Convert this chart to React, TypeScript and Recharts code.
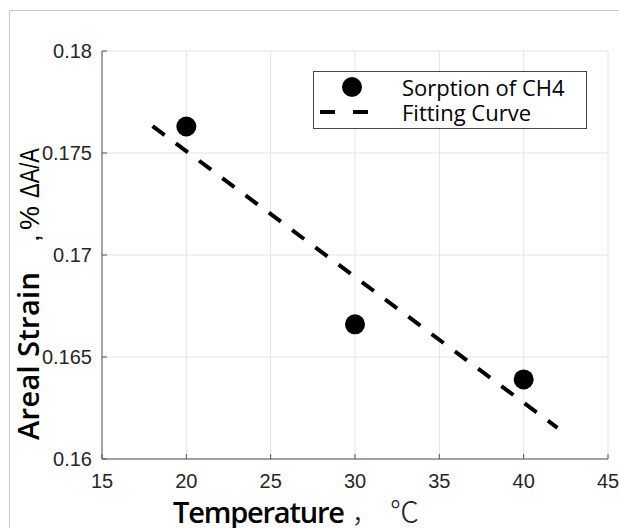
import React from 'react';
import { ScatterChart, Scatter, XAxis, YAxis, CartesianGrid, Legend } from 'recharts';

// measured CH4 sorption points
const temperature = [20, 30, 40];
const arealStrain = [0.1763, 0.1666, 0.1639];

// linear fit, drawn between its two end points
const fitTemperature = [18, 42];
const fitStrain = [0.17632, 0.16153];

const xTicks = [15, 20, 25, 30, 35, 40, 45];
const yTicks = [0.16, 0.165, 0.17, 0.175, 0.18];

const seriesNames = ['Sorption of CH4', 'Fitting Curve'];

const points = temperature.map((t, i) => ({ x: t, y: arealStrain[i] }));
const fitLine = fitTemperature.map((t, i) => ({ x: t, y: fitStrain[i] }));

const axisColor = '#555';
const tickFont = { fontFamily: 'Liberation Sans, Arial, sans-serif', fontSize: 20, fill: '#262626' };

const Dot = (props: any) => <circle cx={props.cx} cy={props.cy} r={10} fill="#000" />;
const NoShape = () => <g />;

const XTitle = () => (
  <text y={523} fill="#000" fontSize={29}>
    <tspan x={173} fontFamily="Open Sans, sans-serif" fontWeight={600} textLength={172}>
      Temperature
    </tspan>
    <tspan x={352} fontFamily="Noto Sans CJK SC, sans-serif" fontWeight={300} fontSize={26} fill="#222">
      ，
    </tspan>
    <tspan x={390} fontFamily="Noto Sans CJK SC, sans-serif" fontWeight={300} fill="#222">
      ℃
    </tspan>
  </text>
);

const YTitle = () => (
  <text transform="rotate(-90, 39, 440)" y={440} fill="#000" fontSize={29}>
    <tspan x={39} fontFamily="Open Sans, sans-serif" fontWeight={600} textLength={168}>
      Areal Strain
    </tspan>
    <tspan x={39 + 198} fontFamily="Liberation Sans, Arial, sans-serif" fontSize={28}>
      ,
    </tspan>
    <tspan
      x={39 + 210}
      fontFamily="Liberation Sans, Arial, sans-serif"
      fontSize={28}
      textLength={24}
      lengthAdjust="spacingAndGlyphs"
    >
      %
    </tspan>
    <tspan
      x={39 + 242}
      fontFamily="Liberation Sans, Arial, sans-serif"
      fontSize={28}
      textLength={50}
      lengthAdjust="spacingAndGlyphs"
    >
      ΔA/A
    </tspan>
  </text>
);

const LegendBox = () => (
  <div
    style={{
      width: 274,
      height: 58,
      boxSizing: 'border-box',
      border: '1.5px solid #444',
      background: '#fff',
      position: 'relative',
      fontFamily: 'Open Sans, sans-serif',
      fontSize: 22,
      color: '#000',
    }}
  >
    <svg width={80} height={56} style={{ position: 'absolute', left: 0, top: 0 }}>
      <circle cx={38} cy={15} r={10} fill="#000" />
      <line x1={6} y1={40} x2={56} y2={40} stroke="#000" strokeWidth={4} strokeDasharray="15 18" />
    </svg>
    <div style={{ position: 'absolute', left: 88, top: 3, lineHeight: '24px' }}>{seriesNames[0]}</div>
    <div style={{ position: 'absolute', left: 88, top: 28, lineHeight: '24px' }}>{seriesNames[1]}</div>
  </div>
);

export default function App() {
  return (
    <div style={{ position: 'absolute', left: 0, top: 0, width: 619, height: 528, background: '#fff', overflow: 'hidden' }}>
      <div
        style={{
          position: 'absolute',
          left: 9,
          top: 10,
          width: 700,
          height: 600,
          borderTop: '1px solid #c8c8c8',
          borderLeft: '1px solid #c8c8c8',
        }}
      />
      <ScatterChart width={619} height={528} margin={{ top: 51, right: 11, left: 0, bottom: 0 }}>
        <CartesianGrid stroke="#e4e4e4" strokeWidth={1} />
        <XAxis
          type="number"
          dataKey="x"
          domain={[15, 45]}
          ticks={xTicks}
          height={69}
          tickSize={-5}
          tickMargin={20}
          stroke={axisColor}
          tickLine={{ stroke: axisColor }}
          tick={tickFont}
          label={<XTitle />}
        />
        <XAxis
          xAxisId="top"
          orientation="top"
          type="number"
          domain={[15, 45]}
          ticks={xTicks}
          height={0}
          tickSize={-5}
          tickFormatter={() => ''}
          stroke={axisColor}
        />
        <YAxis
          type="number"
          dataKey="y"
          domain={[0.16, 0.18]}
          ticks={yTicks}
          width={102}
          tickSize={-5}
          tickMargin={15}
          stroke={axisColor}
          tick={tickFont}
          tickFormatter={(v: number) => String(v)}
          label={<YTitle />}
        />
        <YAxis
          yAxisId="right"
          orientation="right"
          type="number"
          domain={[0.16, 0.18]}
          ticks={yTicks}
          width={0}
          tickSize={-5}
          tickFormatter={() => ''}
          stroke={axisColor}
        />
        <Scatter
          name={seriesNames[1]}
          data={fitLine}
          line={{ stroke: '#000', strokeWidth: 4, strokeDasharray: '15 14' }}
          lineType="joint"
          shape={<NoShape />}
          isAnimationActive={false}
        />
        <Scatter name={seriesNames[0]} data={points} fill="#000" shape={<Dot />} isAnimationActive={false} />
        <Legend
          layout="vertical"
          align="center"
          verticalAlign="middle"
          content={() => <LegendBox />}
          wrapperStyle={{ position: 'absolute', left: 313, top: 71, width: 274, height: 58 }}
        />
      </ScatterChart>
    </div>
  );
}
